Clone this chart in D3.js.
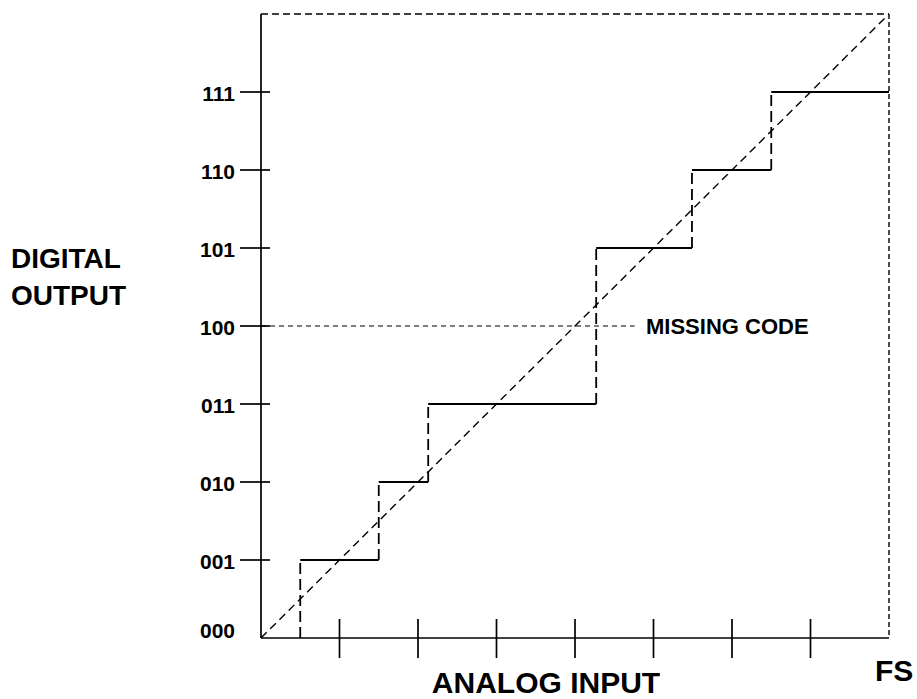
<!DOCTYPE html>
<html>
<head>
<meta charset="utf-8">
<script src="https://cdn.jsdelivr.net/npm/d3@7"></script>
<style>
  html, body { margin: 0; padding: 0; background: #fff; }
  svg { display: block; }
  text { font-family: "Liberation Sans", Arial, Helvetica, sans-serif; font-weight: bold; fill: #000; }
</style>
</head>
<body>
<svg id="chart" width="917" height="699"></svg>
<script>
// ---- data ----
const codeLabels = ["000", "001", "010", "011", "100", "101", "110", "111"];
const codeValues = [0, 1, 2, 3, 4, 5, 6, 7];
// analog input (in LSB) at which each output transition occurs
const transitionInputs = [0.5, 1.5, 2.13, 4.27, 5.49, 6.5];
// output code before and after each transition
const transitionFrom = [0, 1, 2, 3, 5, 6];
const transitionTo   = [1, 2, 3, 5, 6, 7];
const xTickValues = [1, 2, 3, 4, 5, 6, 7];
const fullScale = 8;
const missingCode = 4;
const missingCodeLabel = "MISSING CODE";

// ---- layout ----
const svg = d3.select("#chart");
const x = d3.scaleLinear().domain([0, fullScale]).range([261, 889]);
const y = d3.scaleLinear().domain([0, fullScale]).range([638, 14]);

const g = svg.append("g");

// frame: top and right dashed borders
g.append("line")
  .attr("x1", x(0)).attr("x2", x(fullScale))
  .attr("y1", y(fullScale)).attr("y2", y(fullScale))
  .attr("stroke", "#000").attr("stroke-width", 1.4).attr("stroke-dasharray", "7,4");
g.append("line")
  .attr("x1", x(fullScale)).attr("x2", x(fullScale))
  .attr("y1", y(fullScale)).attr("y2", y(0))
  .attr("stroke", "#000").attr("stroke-width", 1.4).attr("stroke-dasharray", "5,3");

// axes (solid)
g.append("line")
  .attr("x1", x(0)).attr("x2", x(0))
  .attr("y1", y(fullScale)).attr("y2", y(0))
  .attr("stroke", "#000").attr("stroke-width", 1.7);
g.append("line")
  .attr("x1", x(0)).attr("x2", x(fullScale))
  .attr("y1", y(0)).attr("y2", y(0))
  .attr("stroke", "#000").attr("stroke-width", 1.7);

// y ticks (crossing the axis)
g.selectAll("line.ytick")
  .data(codeValues.filter(d => d > 0))
  .join("line")
  .attr("class", "ytick")
  .attr("x1", x(0) - 21).attr("x2", x(0) + 9)
  .attr("y1", d => y(d)).attr("y2", d => y(d))
  .attr("stroke", "#000").attr("stroke-width", 1.7);

// y tick labels
g.selectAll("text.ylabel")
  .data(codeValues)
  .join("text")
  .attr("class", "ylabel")
  .attr("x", 235)
  .attr("y", d => y(d) + (d === 0 ? 0 : 9))
  .attr("text-anchor", "end")
  .attr("font-size", 21)
  .text(d => codeLabels[d]);

// x ticks (crossing the axis)
g.selectAll("line.xtick")
  .data(xTickValues)
  .join("line")
  .attr("class", "xtick")
  .attr("x1", d => x(d)).attr("x2", d => x(d))
  .attr("y1", y(0) - 19).attr("y2", y(0) + 20)
  .attr("stroke", "#000").attr("stroke-width", 1.7);

// ideal transfer (diagonal)
g.append("line")
  .attr("x1", x(0)).attr("y1", y(0))
  .attr("x2", x(fullScale)).attr("y2", y(fullScale))
  .attr("stroke", "#000").attr("stroke-width", 1.4).attr("stroke-dasharray", "8,5");

// staircase: solid horizontal treads
const treads = transitionInputs.map((t, i) => ({
  level: transitionTo[i],
  x0: t,
  x1: i + 1 < transitionInputs.length ? transitionInputs[i + 1] : fullScale
}));
g.selectAll("line.tread")
  .data(treads)
  .join("line")
  .attr("class", "tread")
  .attr("x1", d => x(d.x0)).attr("x2", d => x(d.x1))
  .attr("y1", d => y(d.level)).attr("y2", d => y(d.level))
  .attr("stroke", "#000").attr("stroke-width", 1.8);

// staircase: dashed risers
g.selectAll("line.riser")
  .data(transitionInputs.map((t, i) => ({ t, from: transitionFrom[i], to: transitionTo[i] })))
  .join("line")
  .attr("class", "riser")
  .attr("x1", d => x(d.t)).attr("x2", d => x(d.t))
  .attr("y1", d => y(d.from)).attr("y2", d => y(d.to))
  .attr("stroke", "#000").attr("stroke-width", 1.8).attr("stroke-dasharray", "11,5");

// missing code guide line and label
g.append("line")
  .attr("x1", x(0)).attr("x2", x(4.76))
  .attr("y1", y(missingCode)).attr("y2", y(missingCode))
  .attr("stroke", "#000").attr("stroke-width", 1.2).attr("stroke-dasharray", "5,4");
g.append("text")
  .attr("x", 646).attr("y", y(missingCode) + 8)
  .attr("font-size", 22)
  .text(missingCodeLabel);

// axis titles
g.append("text").attr("x", 11).attr("y", 268).attr("font-size", 28).text("DIGITAL");
g.append("text").attr("x", 11).attr("y", 305).attr("font-size", 28).text("OUTPUT");
g.append("text").attr("x", 546).attr("y", 693).attr("text-anchor", "middle").attr("font-size", 30).text("ANALOG INPUT");
g.append("text").attr("x", 875).attr("y", 681).attr("font-size", 30).text("FS");
</script>
</body>
</html>
